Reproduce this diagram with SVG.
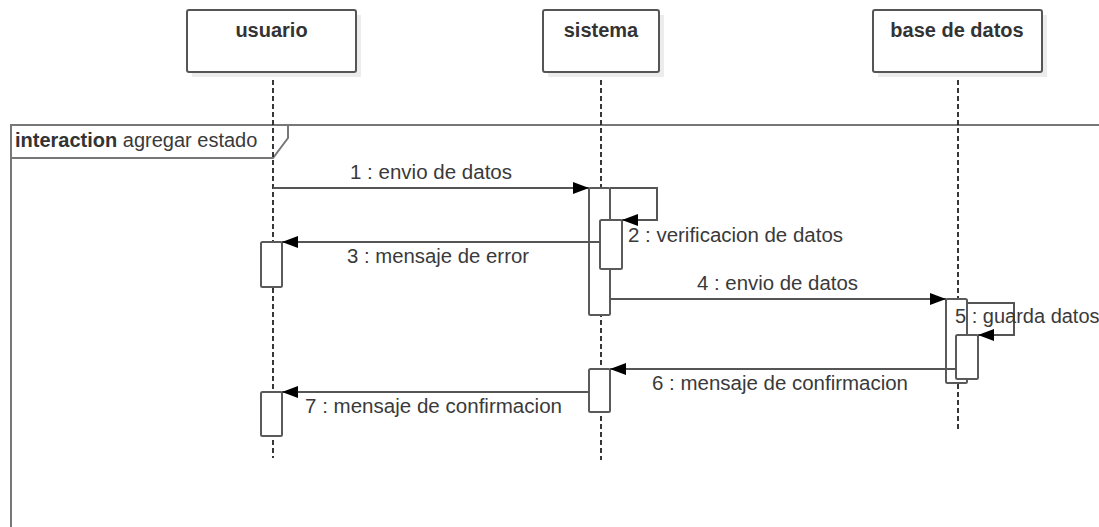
<svg xmlns="http://www.w3.org/2000/svg" width="1099" height="527" viewBox="0 0 1099 527">
  <style>
    text { font-family: "Liberation Sans", Arial, sans-serif; font-size: 20px; fill: #3a3a3a; }
    .title { font-weight: bold; fill: #333; }
    .box { fill: #fff; stroke: #555; stroke-width: 2; }
    .shadow { fill: #ececec; }
    .life { stroke: #222; stroke-width: 1.8; stroke-dasharray: 5 3; fill: none; }
    .act { fill: #fff; stroke: #5a5a5a; stroke-width: 2; }
    .msg { stroke: #555; stroke-width: 2; fill: none; }
    .frame { stroke: #777; stroke-width: 2; fill: none; }
  </style>
  <defs>
    <marker id="arr" markerWidth="16" markerHeight="12" refX="16" refY="6" orient="auto" markerUnits="userSpaceOnUse">
      <path d="M0,0 L16,6 L0,12 Z" fill="#000"/>
    </marker>
  </defs>
  <rect width="1099" height="527" fill="#fff"/>

  <!-- frame -->
  <g id="frame">
    <path class="frame" d="M11,527 L11,125 L1099,125"/>
    <path class="frame" d="M11,125 L288,125 L288,138 L273,158 L11,158" fill="#fff"/>
    <text x="15" y="147"><tspan font-weight="bold" fill="#333">interaction</tspan> agregar estado</text>
  </g>

  <!-- lifelines -->
  <g id="lifelines">
    <line class="life" x1="273" y1="72" x2="273" y2="458"/>
    <line class="life" x1="601" y1="72" x2="601" y2="460"/>
    <line class="life" x1="958" y1="72" x2="958" y2="432"/>
  </g>

  <g id="usuario">
    <rect class="shadow" x="192" y="15" width="169" height="62"/>
    <rect class="box" x="187" y="10" width="169" height="62" rx="2"/>
    <text class="title" x="271.5" y="37" text-anchor="middle">usuario</text>
  </g>
  <g id="sistema">
    <rect class="shadow" x="548" y="15" width="116" height="62"/>
    <rect class="box" x="543" y="10" width="116" height="62" rx="2"/>
    <text class="title" x="601" y="37" text-anchor="middle">sistema</text>
  </g>
  <g id="base_de_datos">
    <rect class="shadow" x="878" y="15" width="169" height="62"/>
    <rect class="box" x="873" y="10" width="169" height="62" rx="2"/>
    <text class="title" x="957" y="37" text-anchor="middle">base de datos</text>
  </g>

  <!-- activations -->
  <g id="activations">
    <rect class="act" x="589" y="188" width="21" height="127" rx="1.5"/>
    <rect class="act" x="600" y="220" width="22" height="49" rx="1.5"/>
    <rect class="act" x="261" y="242" width="21" height="45" rx="1.5"/>
    <rect class="act" x="946" y="299" width="21" height="84" rx="1.5"/>
    <rect class="act" x="956" y="335" width="22" height="44" rx="1.5"/>
    <rect class="act" x="589" y="369" width="21" height="43" rx="1.5"/>
    <rect class="act" x="261" y="392" width="21" height="44" rx="1.5"/>
  </g>

  <!-- connectors -->
  <g id="connectors">
    <line class="msg" x1="273" y1="188" x2="589" y2="188" marker-end="url(#arr)"/>
    <text x="350" y="179" textLength="162" lengthAdjust="spacingAndGlyphs">1 : envio de datos</text>

    <path class="msg" d="M610,188 L657,188 L657,220 L622,220" marker-end="url(#arr)"/>
    <text x="628" y="242" textLength="215" lengthAdjust="spacingAndGlyphs">2 : verificacion de datos</text>

    <line class="msg" x1="600" y1="242" x2="282" y2="242" marker-end="url(#arr)"/>
    <text x="347" y="263" textLength="182" lengthAdjust="spacingAndGlyphs">3 : mensaje de error</text>

    <line class="msg" x1="610" y1="299" x2="946" y2="299" marker-end="url(#arr)"/>
    <text x="697" y="290" textLength="161" lengthAdjust="spacingAndGlyphs">4 : envio de datos</text>

    <path class="msg" d="M967,303 L1014,303 L1014,335 L978,335" marker-end="url(#arr)"/>
    <text x="955" y="323">5 : guarda datos</text>

    <line class="msg" x1="956" y1="369" x2="610" y2="369" marker-end="url(#arr)"/>
    <text x="652" y="390" textLength="256" lengthAdjust="spacingAndGlyphs">6 : mensaje de confirmacion</text>

    <line class="msg" x1="589" y1="392" x2="282" y2="392" marker-end="url(#arr)"/>
    <text x="305" y="413" textLength="257" lengthAdjust="spacingAndGlyphs">7 : mensaje de confirmacion</text>
  </g>
</svg>
